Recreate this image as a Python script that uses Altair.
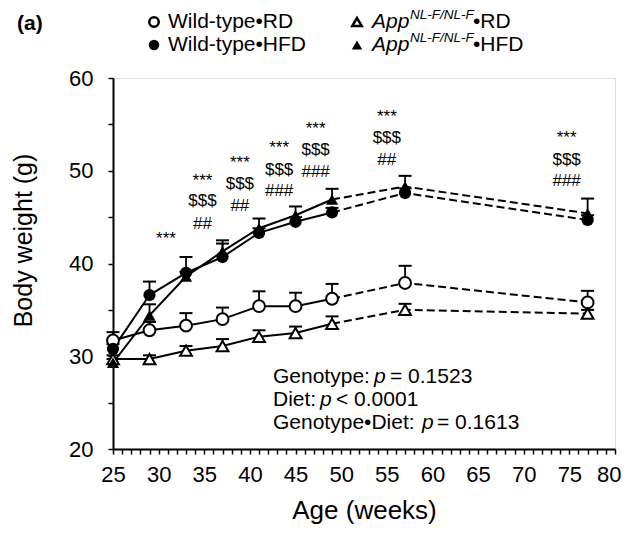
import altair as alt
import pandas as pd

FONT = "Liberation Sans"

weeks = [25, 29, 33, 37, 41, 45, 49, 57, 77]
groups = ["WT-RD", "WT-HFD", "App-RD", "App-HFD"]
wt_rd = [31.7, 32.8, 33.3, 34.0, 35.4, 35.4, 36.2, 37.9, 35.8]
wt_rd_sem = [0.9, 0.9, 1.35, 1.25, 1.6, 1.45, 1.6, 1.85, 1.25]
wt_hfd = [30.8, 36.6, 39.0, 40.7, 43.3, 44.5, 45.5, 47.6, 44.7]
wt_hfd_sem = [0.5, 1.45, 1.7, 1.45, 0.5, 0.5, 0.5, 0.5, 0.5]
app_rd = [29.7, 29.7, 30.6, 31.1, 32.1, 32.5, 33.5, 35.0, 34.6]
app_rd_sem = [0.4, 0.4, 0.5, 0.75, 0.7, 0.7, 0.8, 0.65, 0.4]
app_hfd = [29.3, 34.4, 38.6, 41.3, 43.8, 45.2, 46.9, 48.3, 45.4]
app_hfd_sem = [0.4, 1.2, 0.5, 1.2, 1.05, 0.95, 1.15, 1.15, 1.6]

anno_x = [30.8, 34.8, 34.8, 34.8, 38.9, 38.9, 38.9, 43.2, 43.2, 43.2,
          47.2, 47.2, 47.2, 55.0, 55.0, 55.0, 74.7, 74.7, 74.7]
anno_text = ["***", "***", "$$$", "##", "***", "$$$", "##", "***", "$$$", "###",
             "***", "$$$", "###", "***", "$$$", "##", "***", "$$$", "###"]
anno_y = [42.6, 48.85, 46.7, 44.3, 50.8, 48.6, 46.2, 52.4, 50.1, 47.8,
          54.5, 52.2, 49.9, 55.8, 53.5, 51.2, 53.5, 51.2, 48.9]

x_tick_values = list(range(25, 81))
y_tick_values = list(range(20, 61, 5))

rows = []
series = {"WT-RD": (wt_rd, wt_rd_sem), "WT-HFD": (wt_hfd, wt_hfd_sem),
          "App-RD": (app_rd, app_rd_sem), "App-HFD": (app_hfd, app_hfd_sem)}
for g in groups:
    m, s = series[g]
    for w, mv, sv in zip(weeks, m, s):
        rows.append({"week": w, "mean": mv, "upper": mv + sv, "group": g,
                     "geno": g.split("-")[0], "diet": g.split("-")[1]})
df = pd.DataFrame(rows)
anno_df = pd.DataFrame({"x": anno_x, "y": anno_y, "t": anno_text})

xscale = alt.Scale(domain=[25, 80], nice=False, zero=False)
yscale = alt.Scale(domain=[20, 60], nice=False, zero=False)
shape_scale = alt.Scale(domain=["WT", "App"], range=["circle", "triangle-up"])

base = alt.Chart(df)

x_enc = alt.X("week:Q", scale=xscale, axis=alt.Axis(
    values=x_tick_values, tickCount=200, format="d",
    labelExpr="datum.value % 5 == 0 ? datum.label : ''",
    labelAlign={"expr": "datum.value == 80 ? 'right' : 'center'"},
    labelOffset={"expr": "datum.value == 80 ? 6 : 0"},
    title="Age (weeks)", titleFontSize=26, titleFontWeight="normal", titleY=61,
    titleBaseline="middle", labelFontSize=22, labelPadding=10, tickSize=5,
    tickWidth=1.5, domainWidth=2, domainColor="black", tickColor="black",
    labelColor="black", titleColor="black", grid=False, labelFont=FONT, titleFont=FONT,
    labelFlush=False, labelOverlap=False))
y_enc = alt.Y("mean:Q", scale=yscale, axis=alt.Axis(
    values=y_tick_values, tickCount=100, format="d",
    labelExpr="datum.value % 10 == 0 ? datum.label : ''",
    title="Body weight (g)", titleFontSize=25, titleFontWeight="normal",
    titleX=-90, titleY=162, titleAlign="center", titleBaseline="middle",
    labelFontSize=22, labelPadding=15, tickSize=5, tickWidth=1.5, domainWidth=2,
    domainColor="black", tickColor="black", labelColor="black", titleColor="black",
    grid=False, labelFont=FONT, titleFont=FONT, labelOverlap=False))

stems = base.mark_rule(color="black", strokeWidth=1.8).encode(
    x=x_enc, y=y_enc, y2="upper:Q")
caps = base.mark_rule(color="black", strokeWidth=2, xOffset=-6.5, x2Offset=6.5).encode(
    x="week:Q", x2="week:Q", y="upper:Q")
solid = base.transform_filter("datum.week <= 49").mark_line(
    color="black", strokeWidth=2).encode(x="week:Q", y="mean:Q", detail="group:N")
dashed = base.transform_filter("datum.week >= 49").mark_line(
    color="black", strokeWidth=2, strokeDash=[8, 4]).encode(
    x="week:Q", y="mean:Q", detail="group:N")
open_pts = base.transform_filter("datum.diet == 'RD'").mark_point(
    size=140, fill="white", fillOpacity=1, stroke="black", strokeWidth=2, opacity=1).encode(
    x="week:Q", y="mean:Q", shape=alt.Shape("geno:N", scale=shape_scale, legend=None))
filled_pts = base.transform_filter("datum.diet == 'HFD'").mark_point(
    size=150, filled=True, color="black", opacity=1).encode(
    x="week:Q", y="mean:Q", shape=alt.Shape("geno:N", scale=shape_scale, legend=None))

annos = alt.Chart(anno_df).mark_text(
    fontSize=17, font=FONT, color="black", align="center", baseline="middle").encode(
    x="x:Q", y="y:Q", text="t:N")


def txt(text, x, y, size, style="normal", weight="normal", align="left"):
    return alt.Chart(pd.DataFrame({"t": [text]})).mark_text(
        align=align, baseline="middle", fontSize=size, fontStyle=style,
        fontWeight=weight, font=FONT, color="black").encode(
        x=alt.value(x), y=alt.value(y), text="t:N")


def sym(shape, filled, x, y):
    if filled:
        mk = alt.Chart(pd.DataFrame({"a": [0]})).mark_point(
            shape=shape, size=110, filled=True, color="black", opacity=1)
    else:
        mk = alt.Chart(pd.DataFrame({"a": [0]})).mark_point(
            shape=shape, size=90, fill="white", fillOpacity=1, stroke="black",
            strokeWidth=2.5, opacity=1)
    return mk.encode(x=alt.value(x), y=alt.value(y))


r1, r2 = -56, -33
legend_layers = [
    txt("(a)", -96, -54, 21, weight="bold"),
    sym("circle", False, 41, r1), txt("Wild-type•RD", 55, r1, 21),
    sym("circle", True, 41, r2), txt("Wild-type•HFD", 55, r2, 21),
    sym("triangle-up", False, 244, r1),
    txt("App", 259, r1, 21, style="italic"),
    txt("NL-F/NL-F", 297, r1 - 7, 13.5, style="italic"),
    txt("•RD", 360, r1, 21),
    sym("triangle-up", True, 244, r2),
    txt("App", 259, r2, 21, style="italic"),
    txt("NL-F/NL-F", 297, r2 - 7, 13.5, style="italic"),
    txt("•HFD", 360, r2, 21),
]

x0 = 160
s1, s2, s3 = 298.7, 322, 345.3
stats_layers = [
    txt("Genotype:", x0, s1, 21), txt("p", x0 + 101, s1, 21, style="italic"),
    txt("= 0.1523", x0 + 117, s1, 21),
    txt("Diet:", x0, s2, 21), txt("p", x0 + 47, s2, 21, style="italic"),
    txt("< 0.0001", x0 + 63, s2, 21),
    txt("Genotype•Diet:", x0, s3, 21), txt("p", x0 + 149, s3, 21, style="italic"),
    txt("= 0.1613", x0 + 164, s3, 21),
]

chart = alt.layer(
    stems, caps, solid, dashed, open_pts, filled_pts, annos,
    *legend_layers, *stats_layers
).properties(
    width=502, height=371,
    autosize=alt.AutoSizeParams(type="none"),
    padding={"left": 105, "top": 70, "right": 7, "bottom": 78},
).configure_view(stroke=None).configure(font=FONT)

chart.save("out.html", embed_options={"renderer": "svg", "actions": False})
